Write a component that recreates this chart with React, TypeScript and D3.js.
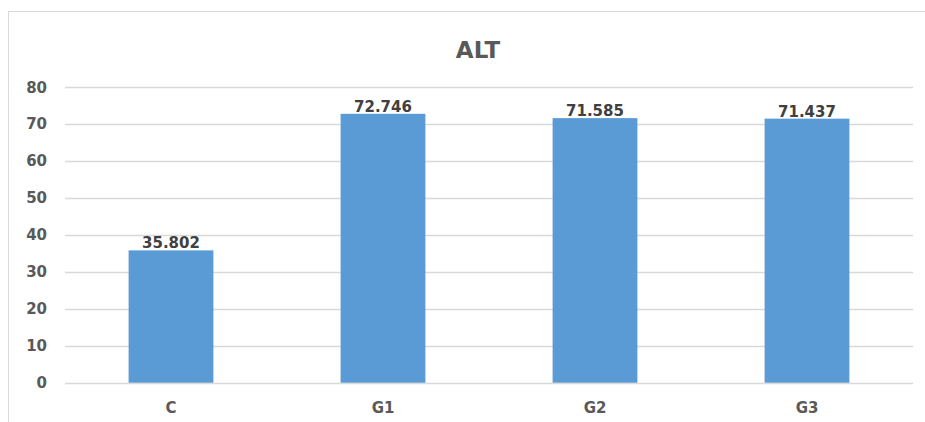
import React, { useEffect, useRef } from "react";
import * as d3 from "d3";

const categories = ["C", "G1", "G2", "G3"];
const values = [35.802, 72.746, 71.585, 71.437];
const yTicks = [0, 10, 20, 30, 40, 50, 60, 70, 80];
const title = "ALT";

export default function App() {
  const ref = useRef<SVGSVGElement>(null);
  useEffect(() => {
    const svg = d3.select(ref.current);
    svg.selectAll("*").remove();
    const W = 925, H = 422;
    const left = 65, right = 913, top = 87, bottom = 382.7;
    const font = "'DejaVu Sans', Verdana, sans-serif";

    svg.append("rect").attr("x", 8.5).attr("y", 11.5).attr("width", W + 10).attr("height", H + 10)
      .attr("fill", "#fff").attr("stroke", "#d9d9d9").attr("stroke-width", 1);

    const x = d3.scaleBand().domain(categories).range([left, right]).paddingInner(0.6).paddingOuter(0.3);
    const y = d3.scaleLinear().domain([0, 80]).range([bottom, top]);

    const g = svg.append("g");
    g.selectAll("line.grid").data(yTicks).enter().append("line")
      .attr("x1", left).attr("x2", right)
      .attr("y1", (d) => Math.round(y(d)) + 0.5).attr("y2", (d) => Math.round(y(d)) + 0.5)
      .attr("stroke", "#d9d9d9").attr("stroke-width", 1.3);

    g.selectAll("text.tick").data(yTicks).enter().append("text")
      .attr("x", 47).attr("y", (d) => y(d) + 5.5)
      .attr("text-anchor", "end").attr("font-family", font).attr("font-weight", "bold")
      .attr("font-size", 15).attr("fill", "#595959").text((d) => String(d));

    g.selectAll("rect.bar").data(values).enter().append("rect")
      .attr("x", (_, i) => x(categories[i])!).attr("width", x.bandwidth())
      .attr("y", (d) => y(d)).attr("height", (d) => y(0) - y(d))
      .attr("fill", "#5B9BD5");

    g.selectAll("text.val").data(values).enter().append("text")
      .attr("x", (_, i) => x(categories[i])! + x.bandwidth() / 2)
      .attr("y", (d) => y(d) - 2)
      .attr("text-anchor", "middle").attr("font-family", font).attr("font-weight", "bold")
      .attr("font-size", 15).attr("fill", "#404040").text((d) => d.toFixed(3));

    g.selectAll("text.cat").data(categories).enter().append("text")
      .attr("x", (d) => x(d)! + x.bandwidth() / 2).attr("y", 412.5)
      .attr("text-anchor", "middle").attr("font-family", font).attr("font-weight", "bold")
      .attr("font-size", 15).attr("fill", "#595959").text((d) => d);

    svg.append("text").attr("x", 478).attr("y", 57.5).attr("text-anchor", "middle")
      .attr("font-family", font).attr("font-weight", "bold").attr("font-size", 23)
      .attr("fill", "#595959").text(title);
  }, []);
  return (
    <svg ref={ref} width={925} height={422}
      style={{ position: "absolute", left: 0, top: 0, display: "block" }} />
  );
}
